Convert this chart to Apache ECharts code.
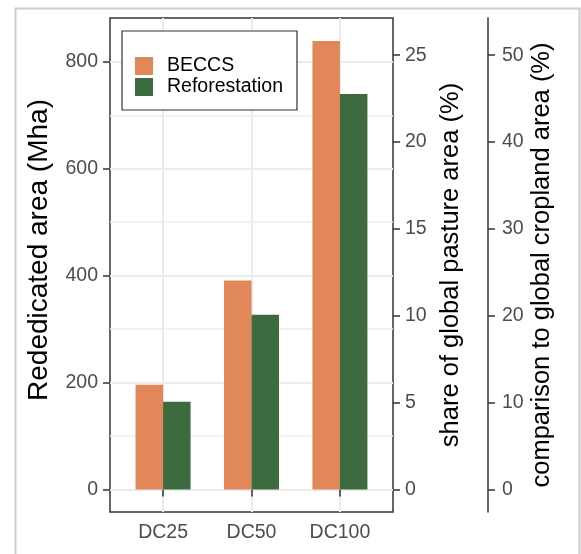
<!DOCTYPE html>
<html>
<head>
<meta charset="utf-8">
<script src="https://cdn.jsdelivr.net/npm/echarts@6/dist/echarts.min.js"></script>
<style>
html,body{margin:0;padding:0;background:#fff;}
#chart{width:581px;height:554px;}
</style>
</head>
<body>
<div id="chart"></div>
<script>
// ---- data ----
const CATEGORIES = ['DC25', 'DC50', 'DC100'];
const SERIES_NAMES = ['BECCS', 'Reforestation'];
const BECCS = [196, 391, 839];
const REFORESTATION = [164, 327, 740];
const AREA_TICKS = [0, 200, 400, 600, 800];
const AREA_MINOR = [100, 300, 500, 700];
const PASTURE_TICKS = [0, 5, 10, 15, 20, 25];
const CROPLAND_TICKS = [0, 10, 20, 30, 40, 50];
const MHA_PER_PASTURE_PCT = 32.5;   // 1 % of global pasture area in Mha
const MHA_PER_CROPLAND_PCT = 16.25; // 1 % of global cropland area in Mha
const Y_MIN = -42, Y_MAX = 882;

const FONT = '"Liberation Sans", Arial, Helvetica, sans-serif';
const COLORS = ['#E1875A', '#3D6B40'];
const TICK_FS = 19.5, TITLE_FS = 25.5, LEFT_TITLE_FS = 28;

const chart = echarts.init(document.getElementById('chart'), null, {renderer: 'canvas'});

const catPos = CATEGORIES.map((c, i) => i + 1);
const toPairs = arr => arr.map((v, i) => [catPos[i], v]);

const tickStyle = {show: true, length: 7, inside: false, lineStyle: {color: '#333', width: 1.5}};
const labelStyle = {color: '#4D4D4D', fontSize: TICK_FS, fontFamily: FONT};
const titleStyle = {color: '#000', fontSize: TITLE_FS, fontFamily: FONT};

const option = {
  backgroundColor: '#fff',
  animation: false,
  textStyle: {fontFamily: FONT},
  graphic: [{
    type: 'rect', left: 13, top: 6, z: -10,
    shape: {width: 564, height: 580},
    style: {fill: 'none', stroke: '#CCCCCC', lineWidth: 2}
  }],
  legend: {
    data: SERIES_NAMES,
    orient: 'vertical',
    left: 122, top: 31,
    padding: [25, 14, 13, 13],
    itemWidth: 18, itemHeight: 18, itemGap: 1,
    icon: 'rect',
    borderColor: '#333', borderWidth: 1.2,
    backgroundColor: '#fff',
    textStyle: {color: '#000', fontSize: TICK_FS, fontFamily: FONT, lineHeight: 18, padding: [0, 0, 0, 9]}
  },
  grid: {
    left: 110, right: 581 - 393, top: 18, bottom: 554 - 512,
    show: true, borderColor: '#333', borderWidth: 1.5, backgroundColor: '#fff',
    containLabel: false
  },
  xAxis: [{
    type: 'value', min: 0.4, max: 3.6,
    axisLine: {show: false},
    axisTick: Object.assign({}, tickStyle, {customValues: catPos}),
    axisLabel: Object.assign({}, labelStyle, {customValues: catPos, margin: 11,
      formatter: v => CATEGORIES[Math.round(v) - 1] || ''}),
    splitLine: {show: true, lineStyle: {color: '#EBEBEB', width: 2}}
  }],
  yAxis: [{
    type: 'value', min: Y_MIN, max: Y_MAX, position: 'left',
    name: 'Rededicated area (Mha)', nameLocation: 'middle', nameRotate: 90, nameGap: 57,
    nameTextStyle: Object.assign({}, titleStyle, {fontSize: LEFT_TITLE_FS, padding: [0, 0, 0, 30]}),
    axisLine: {show: false},
    axisTick: Object.assign({}, tickStyle, {customValues: AREA_TICKS}),
    axisLabel: Object.assign({}, labelStyle, {customValues: AREA_TICKS, margin: 12}),
    splitLine: {show: true, lineStyle: {color: '#EBEBEB', width: 2}}
  }, {
    type: 'value', min: Y_MIN / MHA_PER_PASTURE_PCT, max: Y_MAX / MHA_PER_PASTURE_PCT, position: 'right',
    name: 'share of global pasture area (%)', nameLocation: 'middle', nameRotate: 90, nameGap: 45,
    nameTextStyle: titleStyle,
    axisLine: {show: false},
    axisTick: Object.assign({}, tickStyle, {customValues: PASTURE_TICKS}),
    axisLabel: Object.assign({}, labelStyle, {customValues: PASTURE_TICKS, margin: 12}),
    splitLine: {show: false}
  }, {
    type: 'value', min: Y_MIN / MHA_PER_CROPLAND_PCT, max: Y_MAX / MHA_PER_CROPLAND_PCT, position: 'right', offset: 95,
    name: 'comparison to global cropland area (%)', nameLocation: 'middle', nameRotate: 90, nameGap: 41,
    nameTextStyle: titleStyle,
    axisLine: {show: true, lineStyle: {color: '#333', width: 1.5}},
    axisTick: Object.assign({}, tickStyle, {customValues: CROPLAND_TICKS}),
    axisLabel: Object.assign({}, labelStyle, {customValues: CROPLAND_TICKS, margin: 14}),
    splitLine: {show: false}
  }, {
    type: 'value', min: Y_MIN, max: Y_MAX, position: 'left', show: true,
    axisLine: {show: false},
    axisTick: {show: false, customValues: AREA_MINOR},
    axisLabel: {show: false, customValues: AREA_MINOR},
    splitLine: {show: true, lineStyle: {color: '#EDEDED', width: 1.5}}
  }],
  series: [{
    name: SERIES_NAMES[0], type: 'bar', xAxisIndex: 0, yAxisIndex: 0,
    data: toPairs(BECCS), barWidth: 27.5, barGap: '0%',
    itemStyle: {color: COLORS[0]}, z: 3
  }, {
    name: SERIES_NAMES[1], type: 'bar', xAxisIndex: 0, yAxisIndex: 0,
    data: toPairs(REFORESTATION), barWidth: 27.5, barGap: '0%',
    itemStyle: {color: COLORS[1]}, z: 3
  }]
};
chart.setOption(option);
</script>
</body>
</html>
